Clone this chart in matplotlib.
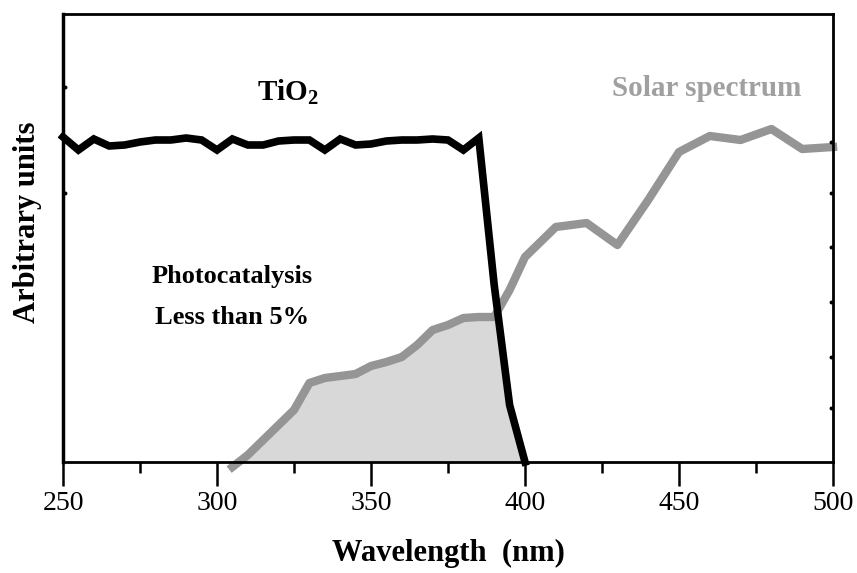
import numpy as np
import matplotlib
matplotlib.use("Agg")
import matplotlib.pyplot as plt
from matplotlib.ticker import MultipleLocator

# Data (arbitrary units; 0..448 scale)
tio2_wl = [250, 255, 260, 265, 270, 275, 280, 285, 290, 295, 300, 305, 310, 315, 320,
           325, 330, 335, 340, 345, 350, 355, 360, 365, 370, 375, 380, 385, 390, 395, 400]
tio2_val = [325, 312, 323, 316, 317, 320, 322, 322, 324, 322, 312, 323, 317, 317, 321,
            322, 322, 312, 323, 317, 318, 321, 322, 322, 323, 322, 312, 324, 177, 57, 0]

solar_wl = [305, 310, 315, 320, 325, 330, 335, 340, 345, 350, 355, 360, 365, 370, 375,
            380, 385, 390, 395, 400, 410, 420, 430, 440, 450, 460, 470, 480, 490, 500]
solar_val = [-5, 7, 22, 37, 52, 79, 84, 86, 88, 96, 100, 105, 117, 132, 137,
             144, 145, 145, 172, 205, 235, 239, 217, 262, 310, 326, 322, 333, 313, 315]

xticks = [250, 300, 350, 400, 450, 500]

plt.rcParams['font.family'] = ['Liberation Serif', 'DejaVu Serif']
plt.rcParams['mathtext.fontset'] = 'custom'
plt.rcParams['mathtext.rm'] = 'Liberation Serif'
plt.rcParams['mathtext.bf'] = 'Liberation Serif:bold'

fig = plt.figure(figsize=(8.57, 5.73), dpi=100)
ax = fig.add_axes([63/857, 1-462/573, (833-63)/857, (462-14)/573])

# shaded region under solar and TiO2 absorption
xf = np.linspace(305, 400, 400)
yf = np.minimum(np.interp(xf, solar_wl, solar_val), np.interp(xf, tio2_wl, tio2_val))
yf = np.clip(yf, 0, None)
ax.fill_between(xf, 0, yf, color='#d8d8d8', lw=0, zorder=1)

ax.plot(solar_wl, solar_val, color='#959595', lw=6, solid_joinstyle='round', zorder=2, clip_on=False)
ax.plot(tio2_wl, tio2_val, color='black', lw=5.5, solid_joinstyle='miter', zorder=3, clip_on=False)

ax.set_xlim(250, 500)
ax.set_ylim(0, 448)
ax.set_xticks(xticks)
ax.set_xticklabels([str(v) for v in xticks], fontsize=20)
ax.xaxis.set_minor_locator(MultipleLocator(25))
ax.tick_params(axis='x', which='major', direction='out', length=17, width=1.8, pad=4)
ax.tick_params(axis='x', which='minor', direction='out', length=8, width=1.8)
ax.set_yticks([])
for s in ['left', 'right', 'top', 'bottom']:
    ax.spines[s].set_linewidth(2)
ax.spines['left'].set_linewidth(2.5)

# tiny tick dots on y axes
for py in [87, 193]:
    ax.plot([250.6], [462 - py], marker='o', ms=1.8, color='black', clip_on=False)
for py in [142, 193, 247, 302, 357, 408]:
    ax.plot([499.4], [462 - py], marker='o', ms=1.8, color='black', clip_on=False)

ax.text(323, 462 - 92, 'TiO$_\\mathbf{2}$', fontsize=21, fontweight='bold', ha='center', va='center')
ax.text(459, 462 - 88, 'Solar spectrum', fontsize=21, fontweight='bold', color='#a0a0a0',
        ha='center', va='center')
ax.text(305, 462 - 276, 'Photocatalysis', fontsize=19, fontweight='bold', ha='center', va='center')
ax.text(305, 462 - 318, 'Less than 5%', fontsize=19, fontweight='bold', ha='center', va='center')

fig.text(448/857, 1 - 553/573, 'Wavelength  (nm)', fontsize=22, fontweight='bold', ha='center', va='center')
fig.text(28/857, 1 - 222/573, 'Arbitrary units', fontsize=22, fontweight='bold', rotation=90,
         ha='center', va='center')

fig.savefig('out.png', dpi=100)
